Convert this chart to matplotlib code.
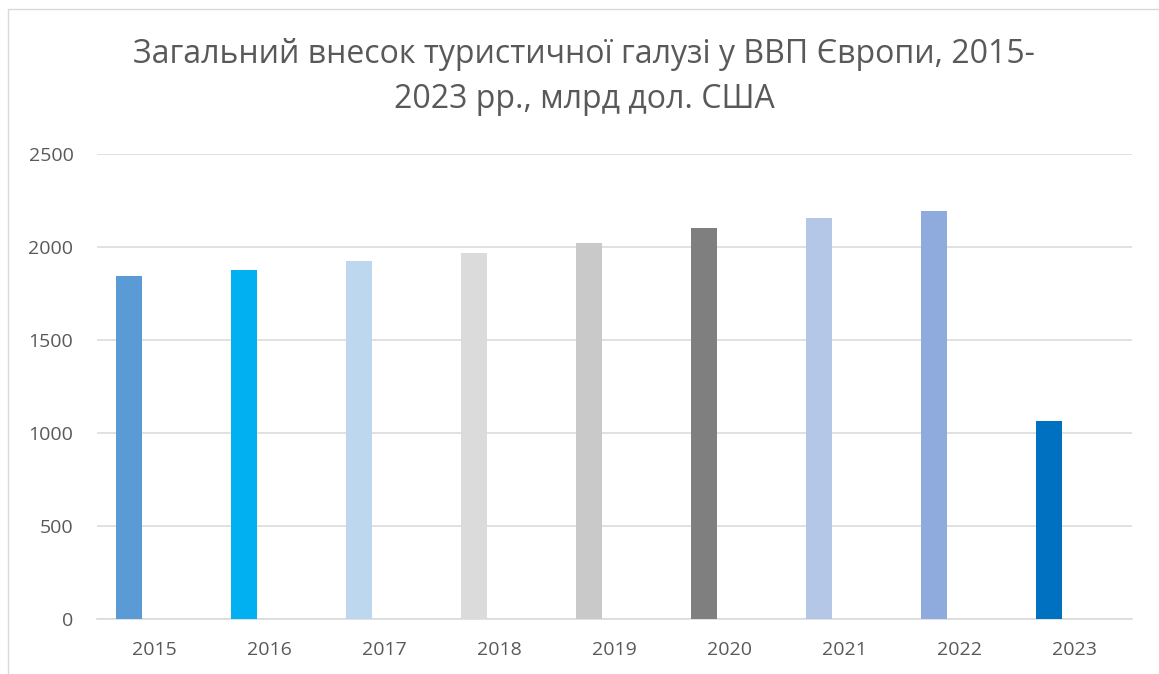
import matplotlib
matplotlib.use("Agg")
import matplotlib.pyplot as plt
from matplotlib.patches import Rectangle

years = ["2015", "2016", "2017", "2018", "2019", "2020", "2021", "2022", "2023"]
values = [1846, 1878, 1926, 1969, 2023, 2104, 2158, 2195, 1066]
colors = ["#5B9BD5", "#00B0F0", "#BDD7EE", "#DBDBDB", "#C9C9C9",
          "#7F7F7F", "#B4C7E7", "#8FAADC", "#0070C0"]

plt.rcParams['font.family'] = ['Open Sans', 'DejaVu Sans']
text_color = '#595959'
grid_color = '#D9D9D9'

fig = plt.figure(figsize=(11.59, 6.74), dpi=100)
# chart frame (partly cut off at right and bottom)
fig.patches.append(Rectangle((8 / 1159, -0.1), 1.2, 1 - 9 / 674 + 0.1,
                             transform=fig.transFigure, fill=False,
                             edgecolor=grid_color, linewidth=1.0))

ax = fig.add_axes([97 / 1159, 1 - 619 / 674, (1132 - 97) / 1159, (619 - 154) / 674])

x = list(range(len(years)))
ax.bar([i - 0.22 for i in x], values, width=0.226, color=colors, zorder=3)

ax.set_xlim(-0.5, len(years) - 0.5)
ax.set_ylim(0, 2500)
ax.set_yticks([0, 500, 1000, 1500, 2000, 2500])
ax.set_xticks(x)
ax.set_xticklabels(years)
ax.grid(axis='y', color=grid_color, linewidth=1.1, zorder=0)
for s in ['top', 'right', 'left']:
    ax.spines[s].set_visible(False)
ax.spines['bottom'].set_color(grid_color)
ax.spines['bottom'].set_linewidth(1.1)
ax.tick_params(axis='both', length=0, labelsize=14, colors=text_color)
ax.tick_params(axis='y', pad=17)
ax.tick_params(axis='x', pad=16)

fig.text(584 / 1159, 1 - 77 / 674,
         "Загальний внесок туристичної галузі у ВВП Європи, 2015-\n2023 рр., млрд дол. США",
         ha='center', va='center', fontsize=23, color=text_color, linespacing=1.45)

fig.savefig("out.png", dpi=100)
